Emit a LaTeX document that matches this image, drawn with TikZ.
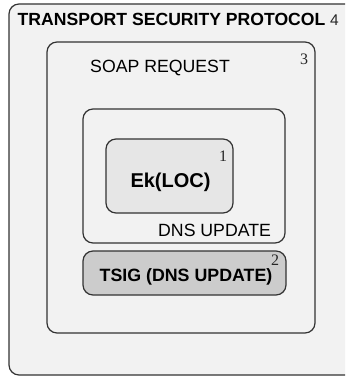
\documentclass[tikz,border=0pt]{standalone}
\usepackage{fontspec}
\setmainfont{Liberation Serif}
\setsansfont{Liberation Sans}
\definecolor{bgA}{HTML}{F2F2F2}
\definecolor{bgB}{HTML}{E6E6E6}
\definecolor{bgC}{HTML}{CCCCCC}
\definecolor{edge}{HTML}{333333}
\tikzset{
  box/.style={draw=edge, line width=1.2pt, rounded corners=10pt, inner sep=0pt, anchor=center},
  lbl/.style={inner sep=0pt, font=\sffamily\fontsize{17.7}{20}\selectfont},
  blbl/.style={inner sep=0pt, font=\sffamily\bfseries\fontsize{17.8}{20}\selectfont},
  num/.style={inner sep=0pt, font=\rmfamily\fontsize{16}{18}\selectfont, text=black!85}
}
\begin{document}
\begin{tikzpicture}[x=1pt,y=-1pt]
\useasboundingbox (0,0) rectangle (345,377);
\clip (0,0) rectangle (345,377);
\node[box, fill=bgA, minimum width=346pt, minimum height=371pt] (outer) at (182,189.5) {};
\node[box, fill=bgA, minimum width=268pt, minimum height=291pt] (soap) at (181,187.5) {};
\node[box, fill=bgA, minimum width=202pt, minimum height=134pt] (dns) at (184,176) {};
\node[box, fill=bgB, minimum width=127pt, minimum height=74pt] (ek) at (169.5,176) {};
\node[box, fill=bgC, minimum width=203pt, minimum height=44pt] (tsig) at (184.5,273) {};

\node[blbl, font=\sffamily\bfseries\fontsize{17.6}{20}\selectfont, anchor=base west] (tsp) at (17.5,25.5) {TRANSPORT SECURITY PROTOCOL};
\node[lbl, font=\sffamily\fontsize{15.5}{18}\selectfont, anchor=base west, text=black!85] (n4) at (330,26) {4};
\node[lbl, anchor=base west] (soapl) at (90,73) {SOAP REQUEST};
\node[num, anchor=base west] (n3) at (300,65) {3};
\node[blbl, font=\sffamily\bfseries\fontsize{20}{22}\selectfont, anchor=base] (ekl) at (170.5,187) {Ek(LOC)};
\node[num, anchor=base west] (n1) at (219,161) {1};
\node[lbl, anchor=base west] (dnsl) at (158,236) {DNS UPDATE};
\node[blbl, anchor=base] (tsigl) at (186,281) {TSIG (DNS UPDATE)};
\node[num, anchor=base west] (n2) at (271,265) {2};
\end{tikzpicture}
\end{document}
